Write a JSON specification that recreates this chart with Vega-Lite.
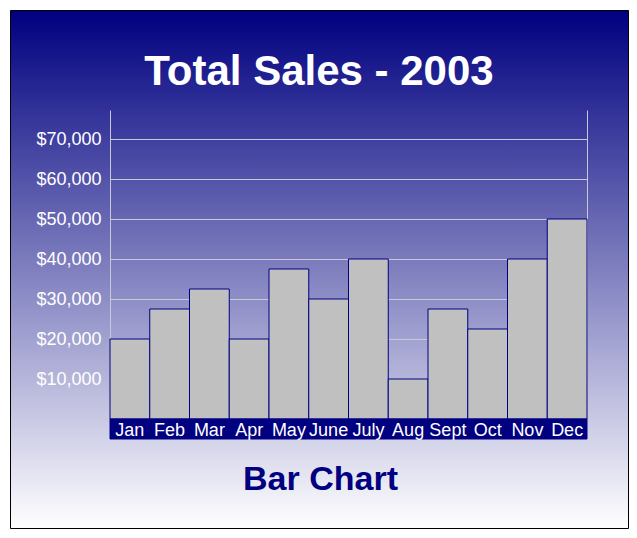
{
  "$schema": "https://vega.github.io/schema/vega-lite/v6.json",
  "width": 618,
  "height": 518,
  "autosize": {"type": "none"},
  "padding": {"left": 10, "top": 10, "right": 9, "bottom": 10},
  "background": "white",
  "view": {
    "stroke": "black",
    "strokeWidth": 1,
    "fill": {
      "gradient": "linear",
      "x1": 0, "y1": 0, "x2": 0, "y2": 1,
      "stops": [
        {"offset": 0, "color": "#000080"},
        {"offset": 1, "color": "#ffffff"}
      ]
    }
  },
  "title": {
    "text": "Total Sales - 2003",
    "fontSize": 42,
    "fontWeight": "bold",
    "font": "Liberation Sans",
    "color": "white",
    "anchor": "middle",
    "frame": "group",
    "offset": -84
  },
  "data": {
    "values": [
      {"month": "Jan", "sales": 20000},
      {"month": "Feb", "sales": 27500},
      {"month": "Mar", "sales": 32500},
      {"month": "Apr", "sales": 20000},
      {"month": "May", "sales": 37500},
      {"month": "June", "sales": 30000},
      {"month": "July", "sales": 40000},
      {"month": "Aug", "sales": 10000},
      {"month": "Sept", "sales": 27500},
      {"month": "Oct", "sales": 22500},
      {"month": "Nov", "sales": 40000},
      {"month": "Dec", "sales": 50000}
    ]
  },
  "encoding": {
    "x": {
      "field": "month",
      "type": "ordinal",
      "sort": null,
      "scale": {"range": [100, 577], "paddingInner": 0, "paddingOuter": 0},
      "axis": {
        "orient": "bottom",
        "offset": -109,
        "zindex": 2,
        "domain": false,
        "ticks": false,
        "tickSize": 0,
        "grid": false,
        "labelAngle": 0,
        "labelColor": "white",
        "labelFontSize": 18,
        "labelFont": "Liberation Sans",
        "labelBaseline": "alphabetic",
        "labelPadding": 16,
        "title": "Bar Chart",
        "titleFont": "Liberation Sans",
        "titleFontSize": 34,
        "titleFontWeight": "bold",
        "titleColor": "#000080",
        "titleX": 310,
        "titleY": 70,
        "titleAlign": "center",
        "titleBaseline": "alphabetic",
        "titleAnchor": null
      }
    }
  },
  "layer": [
    {
      "mark": {"type": "bar", "fill": "#c0c0c0", "stroke": "#000080", "strokeWidth": 1},
      "encoding": {
        "y": {
          "field": "sales",
          "type": "quantitative",
          "scale": {"domain": [0, 77250], "range": [409, 100], "nice": false, "zero": true},
          "axis": {
            "orient": "left",
            "offset": -100,
            "zindex": 0,
            "values": [10000, 20000, 30000, 40000, 50000, 60000, 70000],
            "format": "$,.0f",
            "grid": true,
            "gridColor": "#c8c8d8",
            "gridOpacity": 1,
            "gridWidth": 1,
            "domain": true,
            "domainColor": "#c8c8d8",
            "domainWidth": 1,
            "ticks": false,
            "tickSize": 0,
            "labelColor": "white",
            "labelFontSize": 18,
            "labelFont": "Liberation Sans",
            "labelPadding": 9,
            "title": null
          }
        }
      }
    },
    {
      "mark": {"type": "bar", "fill": "#000080", "stroke": "#000080", "strokeWidth": 1},
      "encoding": {
        "y": {
          "datum": 0,
          "type": "quantitative",
          "axis": {
            "orient": "right",
            "offset": -41,
            "zindex": 0,
            "labels": false,
            "grid": false,
            "ticks": false,
            "tickSize": 0,
            "domain": true,
            "domainColor": "#c8c8d8",
            "domainWidth": 1,
            "title": null
          }
        },
        "y2": {"datum": -5000}
      }
    }
  ],
  "resolve": {"axis": {"y": "independent"}}
}
